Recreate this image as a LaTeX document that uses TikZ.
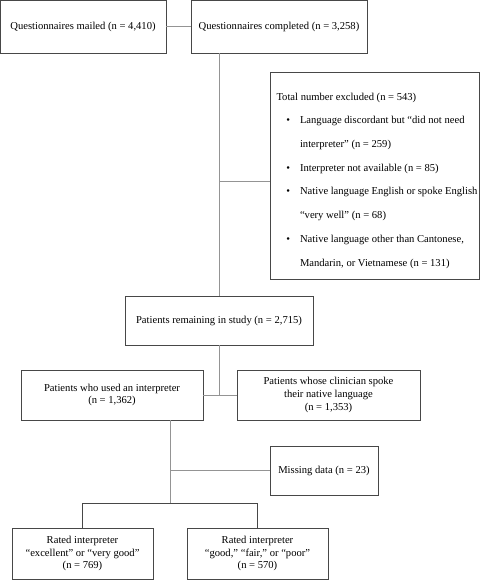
\documentclass[tikz,border=0pt]{standalone}
\usepackage{fontspec}
\setmainfont{Liberation Serif}
\usetikzlibrary{positioning}

\tikzset{
  flowbox/.style={draw=black!72, line width=0.8pt, rectangle, align=center,
    inner sep=0pt, font=\fontsize{10.6}{12.8}\selectfont},
  link/.style={draw=black!42, line width=0.9pt}
}

\begin{document}
\begin{tikzpicture}[x=1pt,y=-1pt]
\useasboundingbox (0,0) rectangle (483,580);
% questionnaires mailed
\node[flowbox, minimum width=166, minimum height=53] (mailed) at (83,26.5)
  {Questionnaires mailed (n = 4,410)};
% questionnaires completed
\node[flowbox, minimum width=176, minimum height=53] (completed) at (279,26.5)
  {Questionnaires completed (n = 3,258)};
\draw[link] (mailed.east) -- (completed.west);
% excluded
\node[flowbox, minimum width=209, minimum height=207, align=left] (excluded) at (374.5,175.5) {
\begin{minipage}{206pt}
\fontsize{10.6}{23.7}\selectfont\raggedright\hyphenpenalty=10000
\vspace*{10pt}
\hspace*{5pt}Total number excluded (n = 543)
\begin{list}{\textbullet}{\setlength{\leftmargin}{28.5pt}\setlength{\labelwidth}{12pt}
  \setlength{\labelsep}{10pt}\setlength{\rightmargin}{0pt}\setlength{\itemsep}{0pt}
  \setlength{\parsep}{0pt}\setlength{\topsep}{0pt}\setlength{\partopsep}{0pt}}
\item Language discordant but ``did not need interpreter'' (n = 259)
\item Interpreter not available (n = 85)
\item Native language English or spoke English ``very well'' (n = 68)
\item Native language other than Cantonese, Mandarin, or Vietnamese (n = 131)
\end{list}
\end{minipage}};
% remaining in study
\node[flowbox, minimum width=188, minimum height=49] (remaining) at (219,320.5)
  {Patients remaining in study (n = 2,715)};
\coordinate (exjoin) at (219,181);
\draw[link] (remaining.north |- completed.south) -- (remaining.north);
\draw[link] (exjoin) -- (exjoin -| excluded.west);
% used an interpreter
\node[flowbox, minimum width=182, minimum height=50] (used) at (112,395)
  {Patients who used an interpreter\\ (n = 1,362)};
% clinician spoke native language
\node[flowbox, minimum width=183, minimum height=50] (clinician) at (328.5,395)
  {Patients whose clinician spoke\\ their native language\\ (n = 1,353)};
\draw[link] (remaining.south) -- (remaining.south |- used.east);
\draw[link] (used.east) -- (clinician.west);
% missing data
\node[flowbox, minimum width=108, minimum height=49] (missing) at (324,470.5)
  {Missing data (n = 23)};
\coordinate (split) at (170,503);
\draw[link] (split |- used.south) -- (split);
\draw[link] (split |- missing.west) -- (missing.west);
% rated excellent / very good
\node[flowbox, minimum width=141, minimum height=51] (excellent) at (82.5,553.5)
  {Rated interpreter\\ ``excellent'' or ``very good''\\ (n = 769)};
% rated good / fair / poor
\node[flowbox, minimum width=141, minimum height=51] (poor) at (257.5,553.5)
  {Rated interpreter\\ ``good,'' ``fair,'' or ``poor''\\ (n = 570)};
\draw[draw=black!72, line width=0.8pt] (excellent.north) -- (excellent.north |- split)
  -- (poor.north |- split) -- (poor.north);
\end{tikzpicture}
\end{document}
